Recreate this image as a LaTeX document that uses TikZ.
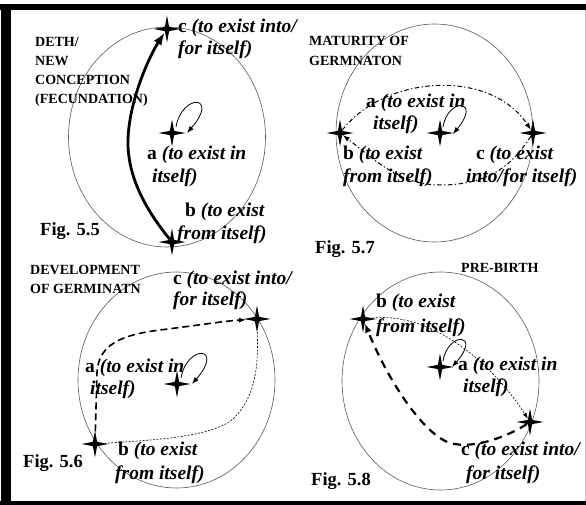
\documentclass[tikz,border=0pt]{standalone}
\usepackage{fontspec}
\setmainfont{Liberation Serif}
\usetikzlibrary{shapes.geometric,arrows.meta,calc}
\begin{document}
\begin{tikzpicture}[x=1pt,y=-1pt,
  fstar/.style={star,star points=4,star point ratio=4.5,minimum size=27pt,inner sep=0pt,fill=black,draw=none},
  ring/.style={draw=black!65,line width=0.6pt},
  lbl/.style={font=\fontsize{19.5}{22.5}\selectfont\bfseries,anchor=base west,inner sep=0pt},
  capl/.style={font=\fontsize{14}{19.3}\selectfont\bfseries,anchor=base west,inner sep=0pt},
  figl/.style={font=\fontsize{18.5}{22}\selectfont\bfseries,anchor=base west,inner sep=0pt},
  selfloop/.style={line width=0.8pt,-{Latex[length=7pt,width=5pt]}},
  thickarrow/.style={line width=2.8pt,-{Latex[length=13pt,width=9pt]}},
  dashdot/.style={line width=1pt,dash pattern=on 4.5pt off 2.5pt on 1.2pt off 2.5pt,-{Latex[length=7pt,width=5pt]}},
  medashed/.style={line width=1.6pt,dash pattern=on 7pt off 4pt,-{Latex[length=7pt,width=5pt]}},
  finedashed/.style={line width=0.6pt,dash pattern=on 2pt off 1.5pt},
  bigdashed/.style={line width=2.2pt,dash pattern=on 8pt off 6pt,-{Latex[length=9pt,width=7pt]}}
]
\useasboundingbox (0,0) rectangle (586,505);
\fill[white] (0,0) rectangle (586,505);
% frame
\fill[black] (0,4) rectangle (586,10);
\fill[black] (1,4) rectangle (11,505);
\fill[black] (0,501) rectangle (586,505);
\draw[black!25,line width=0.8pt] (585,10) -- (585,501);

% ---------- Fig 5.5 ----------
\draw[ring] (167,137) ellipse [x radius=98.5pt, y radius=110pt];
\node[fstar] (c5) at (167,29) {};
\node[fstar] (a5) at (172,133) {};
\node[fstar] (b5) at (172,242) {};
\draw[thickarrow] (b5) .. controls (150,215) and (127,180) .. (128,140)
  .. controls (129,100) and (150,55) .. (c5);
\draw[selfloop] ($(a5)+(4,-6)$) .. controls ($(a5)+(10,-40)$) and ($(a5)+(48,-38)$) .. ($(a5)+(15,0)$);
\node[capl] (t5a) at (35,47) {DETH/};
\node[capl] (t5b) at (35,66) {NEW};
\node[capl] (t5c) at (35,85) {CONCEPTION};
\node[capl] (t5d) at (35,104) {(FECUNDATION)};
\node[lbl] (lc5) at (178,33) {c \textit{(to exist into/}};
\node[lbl] (lc5b) at (178,55) {\textit{for itself)}};
\node[lbl] (la5) at (147,160) {a \textit{(to exist in}};
\node[lbl] (la5b) at (152,183) {\textit{itself)}};
\node[lbl] (lb5) at (185,217) {b \textit{(to exist}};
\node[lbl] (lb5b) at (177,240) {\textit{from itself)}};
\node[figl] (f5) at (40,235) {Fig. 5.5};

% ---------- Fig 5.7 ----------
\draw[ring] (434.5,133) ellipse [x radius=98.5pt, y radius=109pt];
\node[fstar] (b7) at (340,133) {};
\node[fstar] (a7) at (440,133) {};
\node[fstar] (c7) at (533,133) {};
\draw[dashdot] (b7) .. controls (385,75) and (490,68) .. (c7);
\draw[dashdot] (c7) .. controls (515,160) and (495,185) .. (440,185)
  .. controls (400,185) and (375,160) .. (b7);
\draw[selfloop] ($(a7)+(3,-6)$) .. controls ($(a7)+(8,-36)$) and ($(a7)+(42,-34)$) .. ($(a7)+(13,1)$);
\node[capl] (t7a) at (309,46) {MATURITY OF};
\node[capl] (t7b) at (309,66) {GERMNATON};
\node[lbl] (la7) at (366,108) {a \textit{(to exist in}};
\node[lbl] (la7b) at (373,130) {\textit{itself)}};
\node[lbl] (lb7) at (343,160) {b \textit{(to exist}};
\node[lbl] (lb7b) at (343,183) {\textit{from itself)}};
\node[lbl] (lc7) at (476,160) {c \textit{(to exist}};
\node[lbl] (lc7b) at (466,183) {\textit{into/for itself)}};
\node[figl] (f7) at (315,253) {Fig. 5.7};

% ---------- Fig 5.6 ----------
\draw[ring] (176.5,380) ellipse [x radius=98.5pt, y radius=108pt];
\node[fstar] (c6) at (257,319) {};
\node[fstar] (a6) at (177,384) {};
\node[fstar] (b6) at (95,444) {};
\draw[medashed] (b6) -- (97,372) .. controls (99,345) and (120,335) .. (160,330)
  .. controls (200,325) and (225,321) .. (c6);
\draw[finedashed] (c6) .. controls (258,360) and (258,395) .. (233,419)
  .. controls (210,438) and (150,440) .. (b6);
\draw[selfloop] ($(a6)+(4,-6)$) .. controls ($(a6)+(10,-40)$) and ($(a6)+(48,-38)$) .. ($(a6)+(15,0)$);
\node[capl] (t6a) at (30,274) {DEVELOPMENT};
\node[capl] (t6b) at (30,293) {OF GERMINATN};
\node[lbl] (lc6) at (173,284) {c \textit{(to exist into/}};
\node[lbl] (lc6b) at (173,305) {\textit{for itself)}};
\node[lbl] (la6) at (85,372) {a \textit{(to exist in}};
\node[lbl] (la6b) at (90,394) {\textit{itself)}};
\node[lbl] (lb6) at (118,455) {b \textit{(to exist}};
\node[lbl] (lb6b) at (115,479) {\textit{from itself)}};
\node[figl] (f6) at (23,467) {Fig. 5.6};

% ---------- Fig 5.8 ----------
\draw[ring] (440.5,381) ellipse [x radius=98.5pt, y radius=109pt];
\node[fstar] (b8) at (363,319) {};
\node[fstar] (a8) at (440,367) {};
\node[fstar] (c8) at (530,422) {};
\draw[finedashed,-{Latex[length=6pt,width=4pt]}] (b8) .. controls (430,312) and (490,360) .. (c8);
\draw[bigdashed] (c8) .. controls (510,435) and (475,450) .. (450,443)
  .. controls (425,435) and (390,385) .. (b8);
\draw[selfloop] ($(a8)+(3,-6)$) .. controls ($(a8)+(8,-36)$) and ($(a8)+(42,-34)$) .. ($(a8)+(12,0)$);
\node[capl] (t8) at (461,272) {PRE-BIRTH};
\node[lbl] (lb8) at (376,307) {b \textit{(to exist}};
\node[lbl] (lb8b) at (376,332) {\textit{from itself)}};
\node[lbl] (la8) at (458,370) {a \textit{(to exist in}};
\node[lbl] (la8b) at (463,392) {\textit{itself)}};
\node[lbl] (lc8) at (461,455) {c \textit{(to exist into/}};
\node[lbl] (lc8b) at (466,479) {\textit{for itself)}};
\node[figl] (f8) at (311,485) {Fig. 5.8};
\end{tikzpicture}
\end{document}
